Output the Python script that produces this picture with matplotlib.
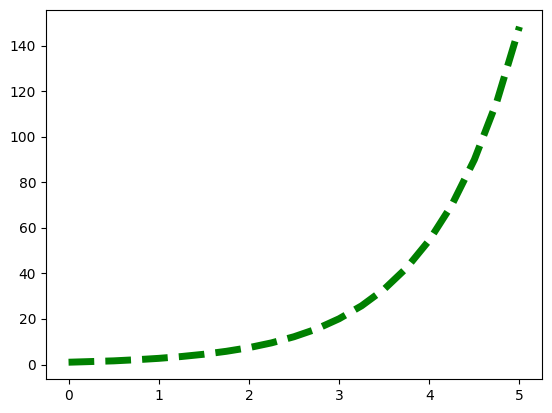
import matplotlib
matplotlib.use("Agg")
import matplotlib.pyplot as plt

x_values = [0.0, 0.25, 0.5, 0.75, 1.0, 1.25, 1.5, 1.75, 2.0, 2.25, 2.5,
            2.75, 3.0, 3.25, 3.5, 3.75, 4.0, 4.25, 4.5, 4.75, 5.0]
y_values = [1.0, 1.3, 1.6, 2.1, 2.7, 3.5, 4.5, 5.8, 7.4, 9.5, 12.2,
            15.6, 20.1, 25.8, 33.1, 42.5, 54.6, 70.1, 90.0, 115.6, 148.4]

W, H = 552, 413
fig = plt.figure(figsize=(W / 100, H / 100), dpi=100)
ax = fig.add_axes([46 / W, (H - 379) / H, 496 / W, 369 / H])
ax.plot(x_values, y_values, color="green", linestyle="--", linewidth=5)
fig.savefig("out.png", dpi=100)
